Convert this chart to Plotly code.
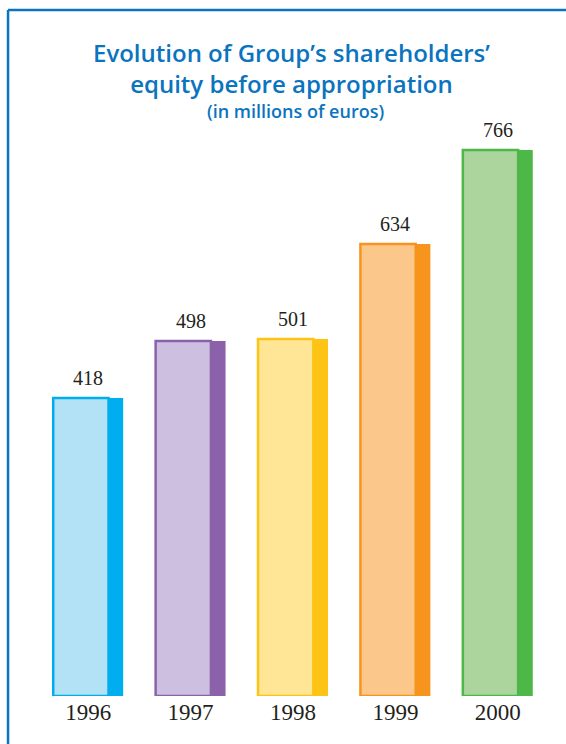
import plotly.graph_objects as go

years = ["1996", "1997", "1998", "1999", "2000"]
equity = [418, 498, 501, 634, 766]
light_colors = ["#b3e2f7", "#cdbfdf", "#ffe697", "#fcc78b", "#abd59c"]
dark_colors = ["#00aeef", "#8b62aa", "#fdc315", "#f7941d", "#4db848"]

W, H = 566, 744
ml, mr, mt, mb = 37, 16.5, 140, 48
pw = W - ml - mr
ph = H - mt - mb

full_w = 0.683
front_w = 0.54
idx = list(range(len(years)))

fig = go.Figure()
# dark side strip (full bar)
fig.add_trace(go.Bar(
    x=idx, y=equity, width=[full_w] * 5, offset=-full_w / 2,
    marker=dict(color=dark_colors, line=dict(width=0)),
    hoverinfo="skip", showlegend=False,
))
# light front face
fig.add_trace(go.Bar(
    x=idx, y=equity, width=[front_w] * 5, offset=-full_w / 2,
    marker=dict(color=light_colors, line=dict(color=dark_colors, width=2.5)),
    showlegend=False,
))

for i, v in zip(idx, equity):
    fig.add_annotation(x=i, y=v, text=str(v), showarrow=False,
                       yanchor="bottom", yshift=7,
                       font=dict(family="Liberation Serif", size=20, color="#231f20"))

def px_x(p):
    return (p - ml) / pw

def px_y(p):
    return (H - mb - p) / ph

title_font = dict(family="Open Sans", size=24, color="#0a74bf", weight=600)
fig.add_annotation(xref="paper", yref="paper", x=px_x(292), y=px_y(68),
                   text="Evolution of Group’s shareholders’<br>equity before appropriation",
                   showarrow=False, align="center",
                   font=title_font, xanchor="center", yanchor="middle")
fig.add_annotation(xref="paper", yref="paper", x=px_x(296), y=px_y(111),
                   text="(in millions of euros)", showarrow=False,
                   font=dict(family="Open Sans", size=18, color="#0a74bf", weight=600),
                   xanchor="center", yanchor="middle")

# frame lines (top and left)
fig.add_shape(type="line", xref="paper", yref="paper",
              x0=px_x(8), x1=px_x(570), y0=px_y(10), y1=px_y(10),
              line=dict(color="#0a74bf", width=2.5))
fig.add_shape(type="line", xref="paper", yref="paper",
              x0=px_x(8), x1=px_x(8), y0=px_y(10), y1=px_y(750),
              line=dict(color="#0a74bf", width=2.5))

fig.update_layout(
    width=W, height=H,
    margin=dict(l=ml, r=mr, t=mt, b=mb, autoexpand=False),
    paper_bgcolor="white", plot_bgcolor="white",
    barmode="overlay",
    hovermode=False,
    xaxis=dict(range=[-0.5, 4.5], showgrid=False, zeroline=False,
               showline=False, ticks="", ticklabelstandoff=0,
               tickmode="array", tickvals=idx, ticktext=years,
               tickfont=dict(family="Liberation Serif", size=23, color="#231f20")),
    yaxis=dict(range=[0, ph / (546 / 766)], visible=False, fixedrange=True),
)

fig.write_html("out.html", config={"displayModeBar": False, "staticPlot": True},
               post_script="document.body.style.margin='0';document.body.style.overflow='hidden';")
